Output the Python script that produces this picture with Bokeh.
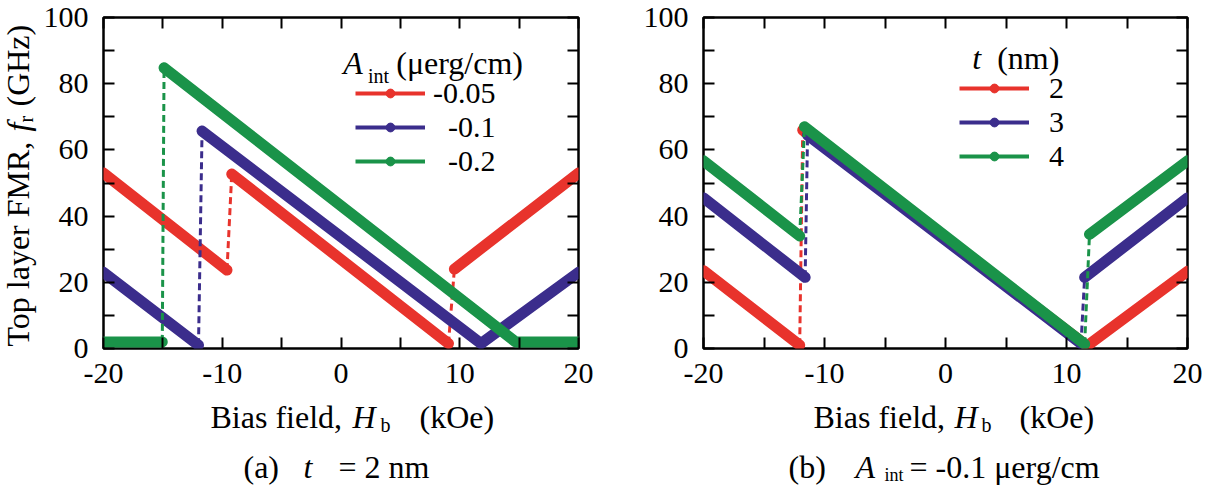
import numpy as np
from bokeh.plotting import figure
from bokeh.layouts import row, column
from bokeh.models import FixedTicker, LinearAxis, Label, Legend, LegendItem, Range1d
from bokeh.core.properties import value
from bokeh.embed import file_html
from bokeh.resources import INLINE

NAN = float("nan")

# Bias field H_b (kOe) and top-layer FMR frequency f_r (GHz).
# NaN separates two branches; the jump between them is drawn dashed.
# (a) t = 2 nm, three interlayer exchange values A_int (uerg/cm)
HB_A_005 = [-20.0, -9.6, NAN, -9.2, 9.05, NAN, 9.55, 20.0]
FR_A_005 = [53.0, 23.7, NAN, 52.7, 1.5, NAN, 24.0, 53.0]
HB_A_01 = [-20.0, -12.0, NAN, -11.7, 11.8, 20.0]
FR_A_01 = [23.0, 1.0, NAN, 65.7, 1.5, 23.0]
HB_A_02 = [-20.0, -15.05, NAN, -14.9, 14.7, 20.0]
FR_A_02 = [2.0, 2.0, NAN, 84.8, 2.0, 2.0]
LABELS_A = ["-0.05", "\u2002-0.1", "\u2002-0.2"]

# (b) A_int = -0.1 uerg/cm, three top-layer thicknesses t (nm)
HB_B_2 = [-20.0, -12.05, NAN, -11.8, 11.7, 20.0]
FR_B_2 = [23.5, 1.0, NAN, 66.0, 0.8, 23.3]
HB_B_3 = [-20.0, -11.6, NAN, -11.4, 11.2, NAN, 11.5, 20.0]
FR_B_3 = [45.5, 21.5, NAN, 64.5, 1.5, NAN, 21.5, 45.5]
HB_B_4 = [-20.0, -12.05, NAN, -11.65, 11.5, NAN, 11.9, 20.0]
FR_B_4 = [56.7, 34.0, NAN, 67.0, 1.3, NAN, 34.5, 56.7]
LABELS_B = ["2", "3", "4"]

X_TICKS = [-20, -10, 0, 10, 20]
X_MINOR = [-15, -5, 5, 15]
X_TICK_TEXT = {-20: "-20", -10: "-10", 0: "0", 10: "10", 20: "20"}
Y_TICKS = [0, 20, 40, 60, 80, 100]
Y_MINOR = [10, 30, 50, 70, 90]

RED = "#e8332c"
BLUE = "#3b2d8c"
GREEN = "#1a9349"
SERIF = "Liberation Serif"

TOP_H = 398      # height of the row holding the two panels
FRAME_TOP, FRAME_BOTTOM = 17, 348
FULL_W, FULL_H = 1206, 490


def jumps(xs, ys):
    """Endpoints of the dashed jumps across each NaN break."""
    x0, y0, x1, y1 = [], [], [], []
    for i in range(1, len(xs) - 1):
        if np.isnan(xs[i]):
            x0.append(xs[i - 1]); y0.append(ys[i - 1])
            x1.append(xs[i + 1]); y1.append(ys[i + 1])
    return x0, y0, x1, y1


def make_panel(series, labels, legend_loc, standoff, width, left, right):
    p = figure(width=width, height=TOP_H, x_range=Range1d(-20, 20), y_range=Range1d(0, 100),
               output_backend="svg", toolbar_location=None,
               min_border_left=left, min_border_right=right,
               min_border_top=FRAME_TOP, min_border_bottom=TOP_H - FRAME_BOTTOM)
    p.grid.visible = False
    p.background_fill_color = "white"
    p.border_fill_color = "white"
    p.outline_line_color = "black"
    p.outline_line_width = 2.5
    p.outline_line_alpha = 1.0

    p.add_layout(LinearAxis(), "above")
    p.add_layout(LinearAxis(), "right")
    for ax in p.xaxis:
        ax.ticker = FixedTicker(ticks=X_TICKS, minor_ticks=X_MINOR)
    for ax in p.yaxis:
        ax.ticker = FixedTicker(ticks=Y_TICKS, minor_ticks=Y_MINOR)
    for ax in list(p.xaxis) + list(p.yaxis):
        ax.axis_line_color = None
        ax.major_tick_in = 11
        ax.major_tick_out = 0
        ax.minor_tick_in = 11
        ax.minor_tick_out = 0
        ax.major_tick_line_width = 2
        ax.minor_tick_line_width = 2
        ax.major_tick_line_color = "black"
        ax.minor_tick_line_color = "black"
        ax.major_label_text_font = SERIF
        ax.major_label_text_font_size = "30px"
        ax.major_label_text_color = "black"
    p.below[0].major_label_overrides = X_TICK_TEXT
    p.below[0].major_label_standoff = 15
    p.left[0].major_label_standoff = 15
    # mirrored tick marks on the top and right edges, without numbers
    for ax in (p.above[0], p.right[0]):
        ax.major_label_text_font_size = "1px"
        ax.major_label_text_color = None
        ax.major_label_standoff = 0

    items = []
    for (xs, ys, color), lab in zip(series, labels):
        x0, y0, x1, y1 = jumps(xs, ys)
        p.segment(x0=x0, y0=y0, x1=x1, y1=y1, line_color=color,
                  line_width=3, line_dash="7 4")
        p.line(x=np.array(xs), y=np.array(ys), line_color=color, line_width=11,
               line_cap="round", line_join="round")
        # legend key only: a single NaN point is never drawn in the frame
        key_line = p.line(x=[NAN], y=[NAN], line_color=color, line_width=4)
        key_dot = p.scatter(x=[NAN], y=[NAN], size=8, fill_color=color, line_color=color)
        items.append(LegendItem(label=lab, renderers=[key_line, key_dot]))

    legend = Legend(items=items, location=legend_loc, orientation="vertical",
                    glyph_width=70, glyph_height=22, label_height=33, spacing=0,
                    padding=0, margin=0, label_standoff=standoff,
                    label_text_font=SERIF, label_text_font_size="30px",
                    label_text_color="black",
                    border_line_alpha=0, background_fill_alpha=0)
    p.add_layout(legend)
    return p


def heading(p, x, y, s, size="32px", style="normal"):
    p.add_layout(Label(x=x, y=y, text=s, text_font=SERIF, text_font_size=size,
                       text_font_style=style, text_color="black",
                       text_align="left", text_baseline="alphabetic"))


def text_strip(width, height, y_bottom, y_top, top=0, bottom=0):
    """Axis-free figure whose data coordinates are page pixels (y grows downward)."""
    f = figure(width=width, height=height, x_range=Range1d(0, width),
               y_range=Range1d(y_bottom, y_top), output_backend="svg",
               toolbar_location=None, x_axis_location=None, y_axis_location=None,
               min_border_left=0, min_border_right=0,
               min_border_top=top, min_border_bottom=bottom)
    f.grid.visible = False
    f.outline_line_color = None
    f.background_fill_color = "white"
    f.border_fill_color = "white"
    return f


def words(f, xs, ys, texts, size="32px", style="normal", angle=0.0):
    f.text(x=xs, y=ys, text=texts, text_font=value(SERIF), text_font_size=value(size),
           text_font_style=style, text_color="black", text_align="left",
           text_baseline="alphabetic", angle=angle)


p_a = make_panel([(HB_A_005, FR_A_005, RED), (HB_A_01, FR_A_01, BLUE), (HB_A_02, FR_A_02, GREEN)],
                 LABELS_A, (252, 170), 8, 563, 61, 25)
p_b = make_panel([(HB_B_2, FR_B_2, RED), (HB_B_3, FR_B_3, BLUE), (HB_B_4, FR_B_4, GREEN)],
                 LABELS_B, (256, 175), 20, 603, 100, 19)

# legend headings
heading(p_a, 0.18, 86.2, "A", style="italic")
heading(p_a, 2.27, 82.3, "int", size="20px")
heading(p_a, 4.65, 86.2, "(\u03bcerg/cm)")
heading(p_b, 2.21, 87.7, "t", style="italic")
heading(p_b, 4.27, 87.7, "(nm)")

# y-axis title of panel (a), reading upward; its frame lines up with the panels
ytitle = text_strip(40, TOP_H, FRAME_BOTTOM, FRAME_TOP,
                    top=FRAME_TOP, bottom=TOP_H - FRAME_BOTTOM)
up = np.pi / 2
words(ytitle, [17], [346], ["Top layer FMR,"], angle=up)
words(ytitle, [17], [131], ["f"], style="italic", angle=up)
words(ytitle, [25], [122], ["r"], size="20px", angle=up)
words(ytitle, [17], [106], ["(GHz)"], angle=up)

# x-axis titles and panel captions
bottom = text_strip(FULL_W, FULL_H - TOP_H, FULL_H, TOP_H)
words(bottom, [210, 813], [416, 416], ["Bias field,", "Bias field,"])
words(bottom, [352, 954], [416, 416], ["H", "H"], style="italic")
words(bottom, [380, 981], [424, 424], ["b", "b"], size="20px")
words(bottom, [419, 1019], [416, 416], ["(kOe)", "(kOe)"])
words(bottom, [243, 338, 788, 909], [466, 466, 466, 466],
      ["(a)", "= 2 nm", "(b)", "= -0.1  \u03bcerg/cm"])
words(bottom, [303, 855], [466, 466], ["t", "A"], style="italic")
words(bottom, [884], [474], ["int"], size="18px")

layout = column(row(ytitle, p_a, p_b), bottom)
open("out.html", "w").write(file_html(layout, INLINE))
